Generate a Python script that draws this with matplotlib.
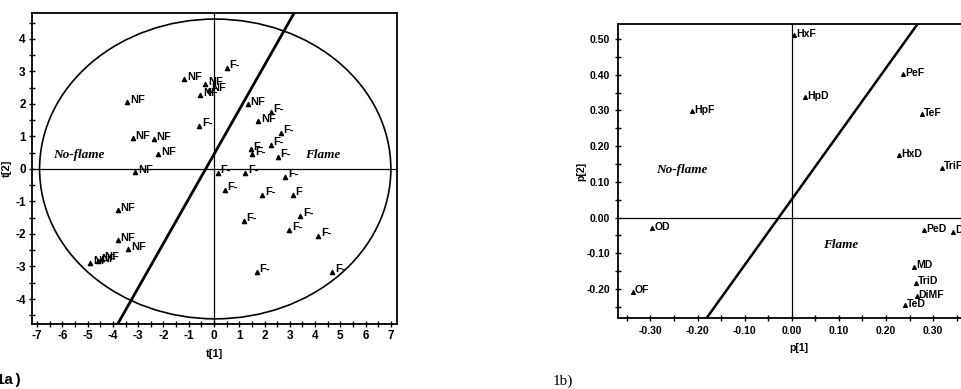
import numpy as np
import matplotlib
matplotlib.use("Agg")
import matplotlib.pyplot as plt
from matplotlib.patches import Ellipse
from matplotlib.ticker import MultipleLocator, FormatStrFormatter

# score plot (1a)
nf_x = [-1.17, -0.35, -0.55, -0.2, -3.44, -3.21, -2.38, -2.2, -3.12, -3.81, -3.81, -3.39, -4.89, -4.57, -4.44, 1.33, 1.75]
nf_y = [2.77, 2.62, 2.28, 2.42, 2.07, 0.94, 0.91, 0.46, -0.09, -1.26, -2.2, -2.46, -2.9, -2.82, -2.76, 1.99, 1.46]
f_x = [0.51, -0.58, 2.25, 2.65, 2.25, 2.52, 1.45, 1.52, 0.15, 1.23, 2.81, 0.43, 1.92, 3.11, 1.17, 3.41, 2.98, 4.12, 1.7, 4.69]
f_y = [3.1, 1.32, 1.76, 1.1, 0.74, 0.38, 0.6, 0.45, -0.13, -0.11, -0.24, -0.65, -0.8, -0.8, -1.6, -1.45, -1.88, -2.06, -3.16, -3.16]
f_labels = ["F-"] * 13 + ["F"] + ["F-"] * 6
t2_ellipse = (0.05, 0.0, 6.95, 4.61)   # centre x, centre y, semi-axes
split_a = (1.37, 0.45)                  # slope, intercept

# loading plot (1b)
names = ["HxF", "HpD", "HpF", "PeF", "TeF", "HxD", "TriF", "PeD", "DiD", "MD", "TriD", "DiMF", "TeD", "OD", "OF"]
p1 = [0.005, 0.028, -0.211, 0.236, 0.277, 0.227, 0.318, 0.28, 0.343, 0.26, 0.263, 0.265, 0.24, -0.296, -0.337]
p2 = [0.511, 0.337, 0.298, 0.402, 0.289, 0.175, 0.14, -0.035, -0.04, -0.138, -0.183, -0.22, -0.245, -0.03, -0.208]
split_b = (1.84, 0.051)

plt.rcParams['font.family'] = ['Liberation Sans', 'DejaVu Sans']
plt.rcParams['axes.unicode_minus'] = False
fig = plt.figure(figsize=(9.61, 3.89), dpi=100)

serif_it = dict(family='Liberation Serif', fontstyle='italic', fontweight='bold', fontsize=9.5)

# ---- left panel
ax = fig.add_axes([0.0333, 0.167, 0.380, 0.799])
ax.axhline(0, color='k', lw=0.9)
ax.axvline(0, color='k', lw=0.9)
cx, cy, ra, rb = t2_ellipse
ax.add_patch(Ellipse((cx, cy), 2 * ra, 2 * rb, fill=False, ec='k', lw=1.2))
xx = np.array([-7.2, 7.25])
ax.plot(xx, split_a[0] * xx + split_a[1], color='k', lw=2)
ax.set_xlim(-7.2, 7.25)
ax.set_ylim(-4.77, 4.79)
ax.scatter(nf_x, nf_y, marker='^', s=9, c='k', zorder=3)
ax.scatter(f_x, f_y, marker='^', s=9, c='k', zorder=3)
for x, y in zip(nf_x, nf_y):
    ax.annotate("NF", (x, y), xytext=(2, 1.5), textcoords='offset points', va='center', ha='left', fontsize=8, fontweight='bold')
for x, y, s in zip(f_x, f_y, f_labels):
    ax.annotate(s, (x, y), xytext=(2, 2), textcoords='offset points', va='center', ha='left', fontsize=8, fontweight='bold')
ax.text(-6.35, 0.42, "No-flame", va='center', **serif_it)
ax.text(3.62, 0.42, "Flame", va='center', **serif_it)
ax.xaxis.set_major_locator(MultipleLocator(1))
ax.xaxis.set_minor_locator(MultipleLocator(0.5))
ax.yaxis.set_major_locator(MultipleLocator(1))
ax.yaxis.set_minor_locator(MultipleLocator(0.5))
ax.tick_params(which='both', direction='inout', length=5, width=1, pad=2)
ax.tick_params(which='minor', length=4)
for lab in ax.get_xticklabels() + ax.get_yticklabels():
    lab.set_fontsize(8.5)
    lab.set_fontweight('bold')
for sp in ax.spines.values():
    sp.set_linewidth(1.3)
ax.set_xlabel("t[1]", fontsize=8, fontweight='bold', labelpad=5)
ax.set_ylabel("t[2]", fontsize=8, fontweight='bold', labelpad=2)

# ---- right panel
bx = fig.add_axes([0.643, 0.182, 0.377, 0.756])
bx.axhline(0, color='k', lw=0.9)
bx.axvline(0, color='k', lw=0.9)
xx = np.array([-0.369, 0.40])
bx.plot(xx, split_b[0] * xx + split_b[1], color='k', lw=1.8)
bx.set_xlim(-0.369, 0.40)
bx.set_ylim(-0.282, 0.542)
bx.scatter(p1, p2, marker='^', s=7, c='k', zorder=3)
for x, y, s in zip(p1, p2, names):
    bx.annotate(s, (x, y), xytext=(1.5, 1), textcoords='offset points', va='center', ha='left', fontsize=7.5, fontweight='bold')
bx.text(-0.287, 0.133, "No-flame", va='center', **serif_it)
bx.text(0.066, -0.077, "Flame", va='center', **serif_it)
bx.xaxis.set_major_locator(MultipleLocator(0.1))
bx.xaxis.set_minor_locator(MultipleLocator(0.05))
bx.yaxis.set_major_locator(MultipleLocator(0.1))
bx.yaxis.set_minor_locator(MultipleLocator(0.05))
bx.xaxis.set_major_formatter(FormatStrFormatter('%.2f'))
bx.yaxis.set_major_formatter(FormatStrFormatter('%.2f'))
bx.tick_params(which='both', direction='inout', length=5, width=1, pad=3)
bx.tick_params(which='minor', length=4)
for lab in bx.get_xticklabels() + bx.get_yticklabels():
    lab.set_fontsize(7.5)
    lab.set_fontweight('bold')
for sp in bx.spines.values():
    sp.set_linewidth(1.3)
bx.set_xlabel("p[1]", fontsize=7.5, fontweight='bold', labelpad=5)
bx.set_ylabel("p[2]", fontsize=7.5, fontweight='bold', labelpad=0)

fig.text(-0.004, 0.012, "1a)", fontsize=11, family='Liberation Mono', fontweight='bold')
fig.text(0.575, 0.012, "1b)", fontsize=11, family='Liberation Serif')

fig.savefig("out.png", dpi=100)
